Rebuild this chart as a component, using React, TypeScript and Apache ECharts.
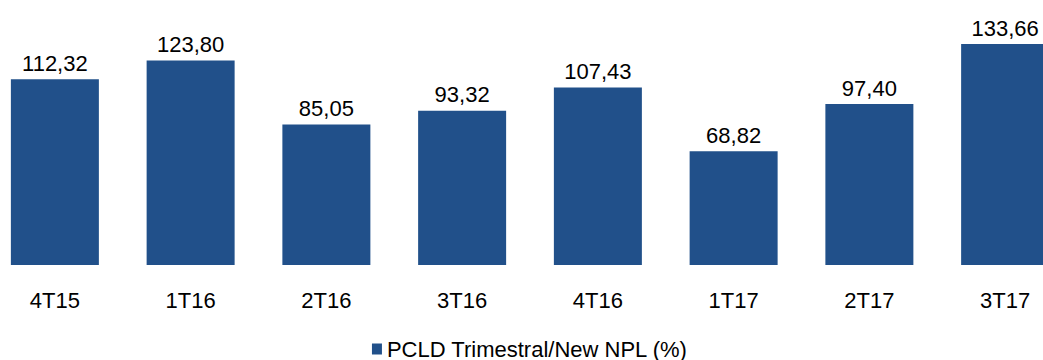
import React, { useEffect, useRef } from "react";
import * as echarts from "echarts";

const categories = ["4T15", "1T16", "2T16", "3T16", "4T16", "1T17", "2T17", "3T17"];
const values = [112.32, 123.8, 85.05, 93.32, 107.43, 68.82, 97.4, 133.66];
const seriesName = "PCLD Trimestral/New NPL (%)";

const fmt = (v: number) => v.toFixed(2).replace(".", ",");
const FONT = "Liberation Sans, Arial, sans-serif";

export default function App() {
  const ref = useRef<HTMLDivElement>(null);
  useEffect(() => {
    if (!ref.current) return;
    const chart = echarts.init(ref.current, null, { renderer: "svg" });
    chart.setOption({
      animation: false,
      textStyle: { fontFamily: FONT },
      grid: { left: 0, right: 0, top: 33.6, bottom: 95, containLabel: false },
      legend: {
        show: true,
        top: 333,
        left: "center",
        itemWidth: 10,
        itemHeight: 11,
        itemGap: 6,
        icon: "rect",
        textStyle: { fontSize: 22, color: "#000", fontFamily: FONT },
        data: [seriesName],
      },
      xAxis: {
        type: "category",
        data: categories,
        axisLine: { show: false },
        axisTick: { show: false },
        axisLabel: { color: "#000", fontSize: 22, margin: 24, fontFamily: FONT },
      },
      yAxis: {
        type: "value",
        min: 0,
        max: 140,
        show: false,
        splitLine: { show: false },
      },
      series: [
        {
          name: seriesName,
          type: "bar",
          data: values,
          barWidth: 88,
          itemStyle: { color: "#21508A" },
          label: {
            show: true,
            position: "top",
            distance: 5,
            color: "#000",
            fontSize: 22,
            fontFamily: FONT,
            formatter: (p: any) => fmt(p.value),
          },
        },
      ],
    });
    return () => chart.dispose();
  }, []);
  return (
    <div style={{ position: "absolute", left: 0, top: 0, width: 1043, height: 360, overflow: "hidden", background: "#fff" }}>
      <div
        ref={ref}
        style={{ position: "absolute", left: -13, top: 0, width: 1086, height: 360 }}
      />
    </div>
  );
}
